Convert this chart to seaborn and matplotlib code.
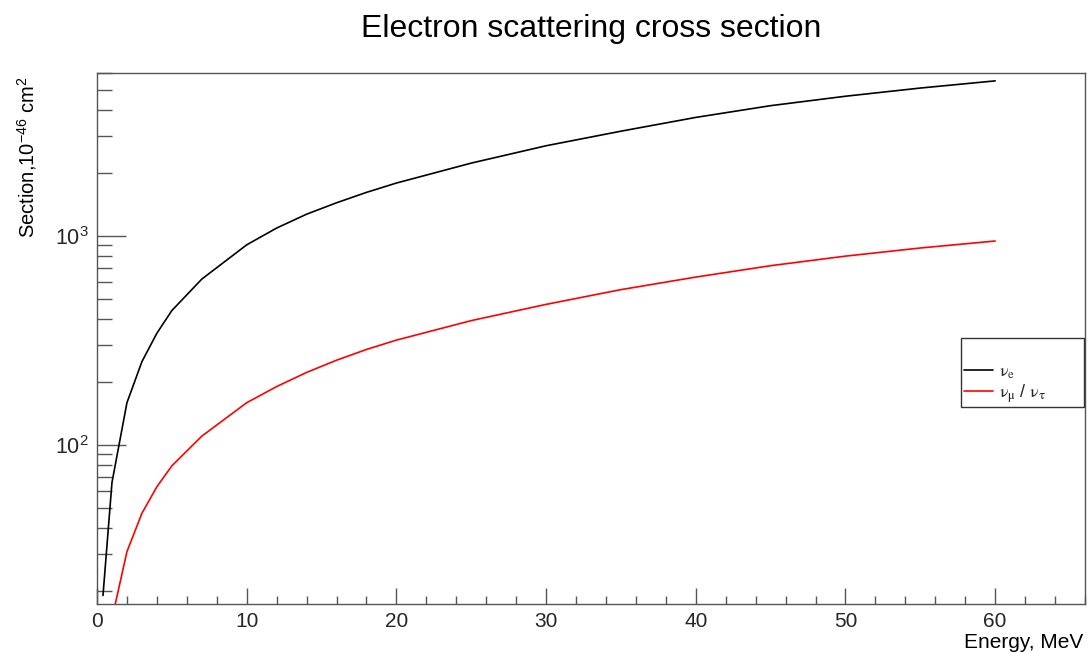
import matplotlib
matplotlib.use("Agg")
import matplotlib.pyplot as plt
import numpy as np
import pandas as pd
import seaborn as sns
from matplotlib.ticker import (LogLocator, MultipleLocator, NullFormatter,
                               LogFormatterSciNotation)
from matplotlib.font_manager import FontProperties

# Neutrino-electron elastic scattering cross sections, units of 1e-46 cm^2
energy_e = [0.4, 1, 2, 3, 4, 5, 7, 10, 12, 14, 16, 18, 20, 25, 30, 35, 40, 45, 50, 55, 60]
sigma_e = [19, 66, 159, 250, 342, 439, 621, 906, 1090, 1270, 1440, 1615, 1790,
           2230, 2700, 3170, 3690, 4200, 4660, 5100, 5520]

energy_mu = [1, 2, 3, 4, 5, 7, 10, 12, 14, 16, 18, 20, 25, 30, 35, 40, 45, 50, 55, 60]
sigma_mu = [14.7, 30.8, 47, 63, 79.3, 110, 159, 190, 222, 254, 286, 317, 393,
            470, 553, 635, 720, 800, 875, 945]

label_e = r"$\mathrm{\nu}_{\mathrm{e}}$"
label_mu = r"$\mathrm{\nu}_{\mathrm{\mu}}$ / $\mathrm{\nu}_{\mathrm{\tau}}$"
flavour_colors = {label_e: "black", label_mu: "#ff0000"}

x_range = (0, 66)
y_range = (17.3, 6040)

title = "Electron scattering cross section"
x_title = "Energy, MeV"
y_title = r"Section,10$^{-46}$ cm$^{2}$"

df = pd.concat([
    pd.DataFrame({"energy": energy_e, "sigma": sigma_e, "flavour": label_e}),
    pd.DataFrame({"energy": energy_mu, "sigma": sigma_mu, "flavour": label_mu}),
], ignore_index=True)

sns.set_style("ticks")
plt.rcParams.update({
    "font.family": ["Liberation Sans", "DejaVu Sans"],
    "mathtext.fontset": "custom",
    "mathtext.rm": "Liberation Sans",
    "mathtext.it": "Liberation Sans:italic",
    "mathtext.bf": "Liberation Sans:bold",
    "axes.unicode_minus": False,
})

W, H = 1088, 653
fig = plt.figure(figsize=(W / 100, H / 100), dpi=100)
fig.patch.set_facecolor("white")
ax = fig.add_axes([97 / W, 1 - 604 / H, (1085 - 97) / W, (604 - 72.7) / H])

sns.lineplot(data=df, x="energy", y="sigma", hue="flavour", palette=flavour_colors,
             estimator=None, sort=False, linewidth=1.2, ax=ax)

ax.set_yscale("log")
ax.set_xlim(*x_range)
ax.set_ylim(*y_range)

frame_color = "#555555"
for side, spine in ax.spines.items():
    spine.set_visible(True)
    spine.set_color(frame_color)
    spine.set_linewidth(1.0)

ax.xaxis.set_major_locator(MultipleLocator(10))
ax.xaxis.set_minor_locator(MultipleLocator(2))
ax.yaxis.set_major_locator(LogLocator(base=10, numticks=10))
ax.yaxis.set_minor_locator(LogLocator(base=10, subs=np.arange(2, 10), numticks=20))
ax.yaxis.set_major_formatter(LogFormatterSciNotation())
ax.yaxis.set_minor_formatter(NullFormatter())

ax.tick_params(axis="x", which="major", direction="in", length=11.5, width=1,
               color=frame_color, labelsize=15, pad=6, top=False)
ax.tick_params(axis="x", which="minor", direction="in", length=6, width=1,
               color=frame_color, top=False)
ax.tick_params(axis="y", which="major", direction="in", length=21, width=1,
               color=frame_color, labelsize=15.5, pad=6, right=False)
ax.tick_params(axis="y", which="minor", direction="in", length=11, width=1,
               color=frame_color, right=False)
ax.grid(False)

ax.set_xlabel("")
ax.set_ylabel("")
fig.text(0.5 * (97 + 1085) / W, 1 - 37.3 / H, title, ha="center", va="baseline",
         fontsize=23, color="black")
fig.text(1083 / W, 1 - 647.5 / H, x_title, ha="right", va="baseline",
         fontsize=15, color="black")
fig.text(15 / W, 1 - 77 / H, y_title, ha="left", va="top", rotation=90,
         fontsize=14.5, color="black")

handles, labels = ax.get_legend_handles_labels()
leg = ax.legend(handles, labels, loc="upper left",
                bbox_to_anchor=(961 / W, 1 - 338 / H - 0.01, (1084 - 961) / W, 0.01),
                bbox_transform=fig.transFigure, mode="expand",
                prop=FontProperties(family="Liberation Sans", size=13,
                                    math_fontfamily="stix"),
                title=" ", title_fontsize=17, frameon=True, fancybox=False,
                borderpad=0.15, labelspacing=0.05, handlelength=1.6,
                handletextpad=0.35, borderaxespad=0)
leg.get_frame().set_edgecolor("#333333")
leg.get_frame().set_linewidth(1.0)
leg.get_frame().set_alpha(1)

fig.savefig("out.png", dpi=100, facecolor="white")
